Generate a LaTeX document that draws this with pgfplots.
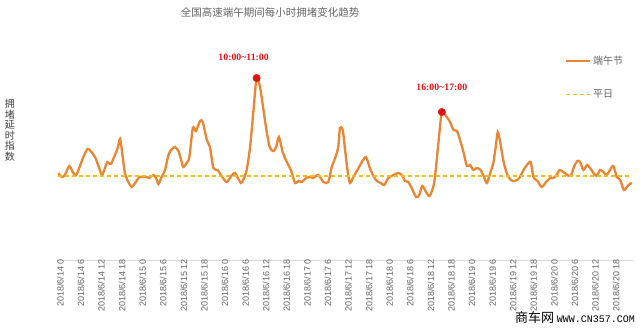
\documentclass[border=0pt]{standalone}
\usepackage{pgfplots}
\pgfplotsset{compat=1.18}
\usepackage{fontspec}
\setmainfont{Liberation Sans}
\newfontfamily\cjk{Noto Sans CJK SC}
\newfontfamily\tms{Liberation Serif}
\newfontfamily\mono{Liberation Mono}
\definecolor{lineor}{RGB}{232,134,52}
\definecolor{dashy}{RGB}{240,190,20}
\definecolor{redl}{RGB}{225,20,20}
\definecolor{txtg}{RGB}{100,100,100}
\begin{document}
\begin{tikzpicture}
\path[use as bounding box] (-57.3bp,-71bp) rectangle (582.7bp,260bp);
\begin{axis}[
  scale only axis, width=575.6bp, height=210bp,
  xmin=-0.3, xmax=167.5, ymin=0, ymax=2.1,
  axis x line*=bottom, axis y line=none,
  x axis line style={-, draw=black!15, line width=0.8pt},
  xtick={0,6,...,162}, major tick length=0pt,
  xticklabels={2018/6/14 0,2018/6/14 6,2018/6/14 12,2018/6/14 18,
    2018/6/15 0,2018/6/15 6,2018/6/15 12,2018/6/15 18,
    2018/6/16 0,2018/6/16 6,2018/6/16 12,2018/6/16 18,
    2018/6/17 0,2018/6/17 6,2018/6/17 12,2018/6/17 18,
    2018/6/18 0,2018/6/18 6,2018/6/18 12,2018/6/18 18,
    2018/6/19 0,2018/6/19 6,2018/6/19 12,2018/6/19 18,
    2018/6/20 0,2018/6/20 6,2018/6/20 12,2018/6/20 18},
  xticklabel style={rotate=90, anchor=east, font=\fontsize{9bp}{10bp}\selectfont, text=txtg, inner sep=1bp, xshift=2bp, yshift=-2bp},
  ytick=\empty,
  clip=false,
  legend style={draw=none, fill=none, at={(0.876,0.99)}, anchor=north west,
    font=\cjk\fontsize{10bp}{12bp}\selectfont, text=txtg, row sep=20bp},
  legend cell align=left,
  legend image code/.code={\draw[#1] (0bp,0bp) -- (24bp,0bp);},
]
\addplot[lineor, line width=2.3bp, smooth, tension=0.45] coordinates {
(0.0,0.87) (1.0,0.83) (1.9,0.85) (3.2,0.94) (4.2,0.88) (5.2,0.85) (6.3,0.94) (7.3,1.03)
(8.5,1.11) (9.4,1.09) (10.7,1.03) (11.7,0.94) (12.7,0.85) (13.4,0.90) (14.3,0.98) (15.3,0.96)
(16.5,1.05) (17.3,1.12) (18.0,1.21) (18.7,1.05) (19.4,0.87) (20.4,0.78) (21.4,0.73) (22.4,0.77)
(23.6,0.83) (24.8,0.83) (25.8,0.83) (26.5,0.82) (27.7,0.85) (28.5,0.82) (29.2,0.76) (30.1,0.83)
(31.1,0.90) (32.1,1.05) (33.1,1.11) (34.0,1.13) (35.0,1.09) (35.8,1.00) (36.4,0.93) (37.4,0.97)
(38.2,1.03) (39.2,1.32) (40.1,1.29) (41.3,1.39) (42.1,1.38) (43.3,1.20) (44.2,1.13) (45.2,0.92)
(46.4,0.90) (47.6,0.84) (49.1,0.78) (50.6,0.85) (51.5,0.87) (52.2,0.83) (53.2,0.77) (53.9,0.80)
(54.9,0.90) (55.9,1.13) (56.9,1.50) (57.8,1.82) (58.8,1.73) (59.8,1.50) (60.8,1.27) (61.7,1.12)
(62.7,1.09) (63.5,1.13) (64.3,1.23) (65.4,1.08) (66.6,0.98) (67.8,0.90) (69.0,0.77) (70.0,0.79)
(71.0,0.78) (72.2,0.82) (73.4,0.83) (74.3,0.82) (75.8,0.85) (77.3,0.78) (78.7,0.78) (79.7,0.93)
(80.7,1.02) (81.6,1.13) (82.1,1.32) (82.9,1.30) (83.6,1.10) (84.3,0.90) (85.0,0.77) (86.0,0.83)
(87.2,0.90) (88.5,0.98) (89.7,1.03) (90.7,0.93) (91.7,0.85) (92.8,0.79) (94.0,0.77) (95.0,0.75)
(96.2,0.82) (97.7,0.85) (99.1,0.87) (100.1,0.85) (101.1,0.79) (102.0,0.78) (103.0,0.72) (104.3,0.63)
(105.2,0.65) (106.1,0.74) (107.2,0.68) (108.2,0.64) (109.2,0.72) (109.8,0.83) (110.8,1.17) (111.8,1.48)
(113.0,1.44) (114.2,1.38) (115.2,1.30) (116.2,1.29) (117.1,1.20) (118.1,1.08) (119.1,0.94) (120.0,0.95)
(121.0,0.90) (122.0,0.92) (123.1,0.90) (124.1,0.83) (124.9,0.77) (125.9,0.87) (126.8,0.97) (127.5,1.13)
(128.1,1.28) (128.8,1.18) (129.7,1.00) (130.7,0.87) (131.9,0.80) (133.1,0.79) (134.4,0.82) (135.6,0.90)
(136.6,0.95) (137.7,0.98) (138.5,0.83) (139.7,0.79) (140.9,0.73) (142.2,0.78) (143.4,0.82) (144.3,0.82)
(145.3,0.85) (146.1,0.90) (147.2,0.88) (148.4,0.85) (149.4,0.84) (150.3,0.93) (151.3,0.99) (152.1,0.98)
(153.1,0.90) (154.1,0.95) (155.0,0.92) (156.0,0.87) (157.0,0.84) (157.9,0.90) (158.9,0.88) (159.9,0.85)
(160.8,0.90) (161.8,0.94) (162.8,0.83) (163.8,0.80) (164.9,0.70) (166.2,0.75) (167.2,0.77)
};
\addlegendentry{端午节}
\addplot[dashy, line width=1.1bp, dash pattern=on 4bp off 3bp] coordinates {(0,0.84) (167.2,0.84)};
\addlegendentry{平日}
\addplot[forget plot, only marks, mark=*, mark size=3.7bp, redl,
  point meta=explicit symbolic, nodes near coords,
  nodes near coords style={anchor=center, xshift=-13bp, yshift=21bp, text=redl,
    font=\tms\bfseries\fontsize{9.8bp}{11bp}\selectfont}]
  coordinates {(57.8,1.82) [10:00\textasciitilde 11:00]};
\addplot[forget plot, only marks, mark=*, mark size=3.7bp, redl,
  point meta=explicit symbolic, nodes near coords,
  nodes near coords style={anchor=center, xshift=0bp, yshift=25bp, text=redl,
    font=\tms\bfseries\fontsize{9.8bp}{11bp}\selectfont}]
  coordinates {(111.8,1.48) [16:00\textasciitilde 17:00]};
\end{axis}
\node[font=\cjk\fontsize{10.5bp}{12bp}\selectfont, text=txtg] at (212.7bp,248bp) {全国高速端午期间每小时拥堵变化趋势};
\node[font=\cjk\fontsize{10bp}{10.5bp}\selectfont, text=black!75, align=center] at (-47.3bp,130bp) {拥\\堵\\延\\时\\指\\数};
\node[anchor=east, inner sep=0pt, text=black] at (577.7bp,-58bp) {{\cjk\fontsize{13bp}{14bp}\selectfont 商车网} {\mono\fontsize{10bp}{12bp}\selectfont WWW.CN357.COM}};
\end{tikzpicture}
\end{document}
